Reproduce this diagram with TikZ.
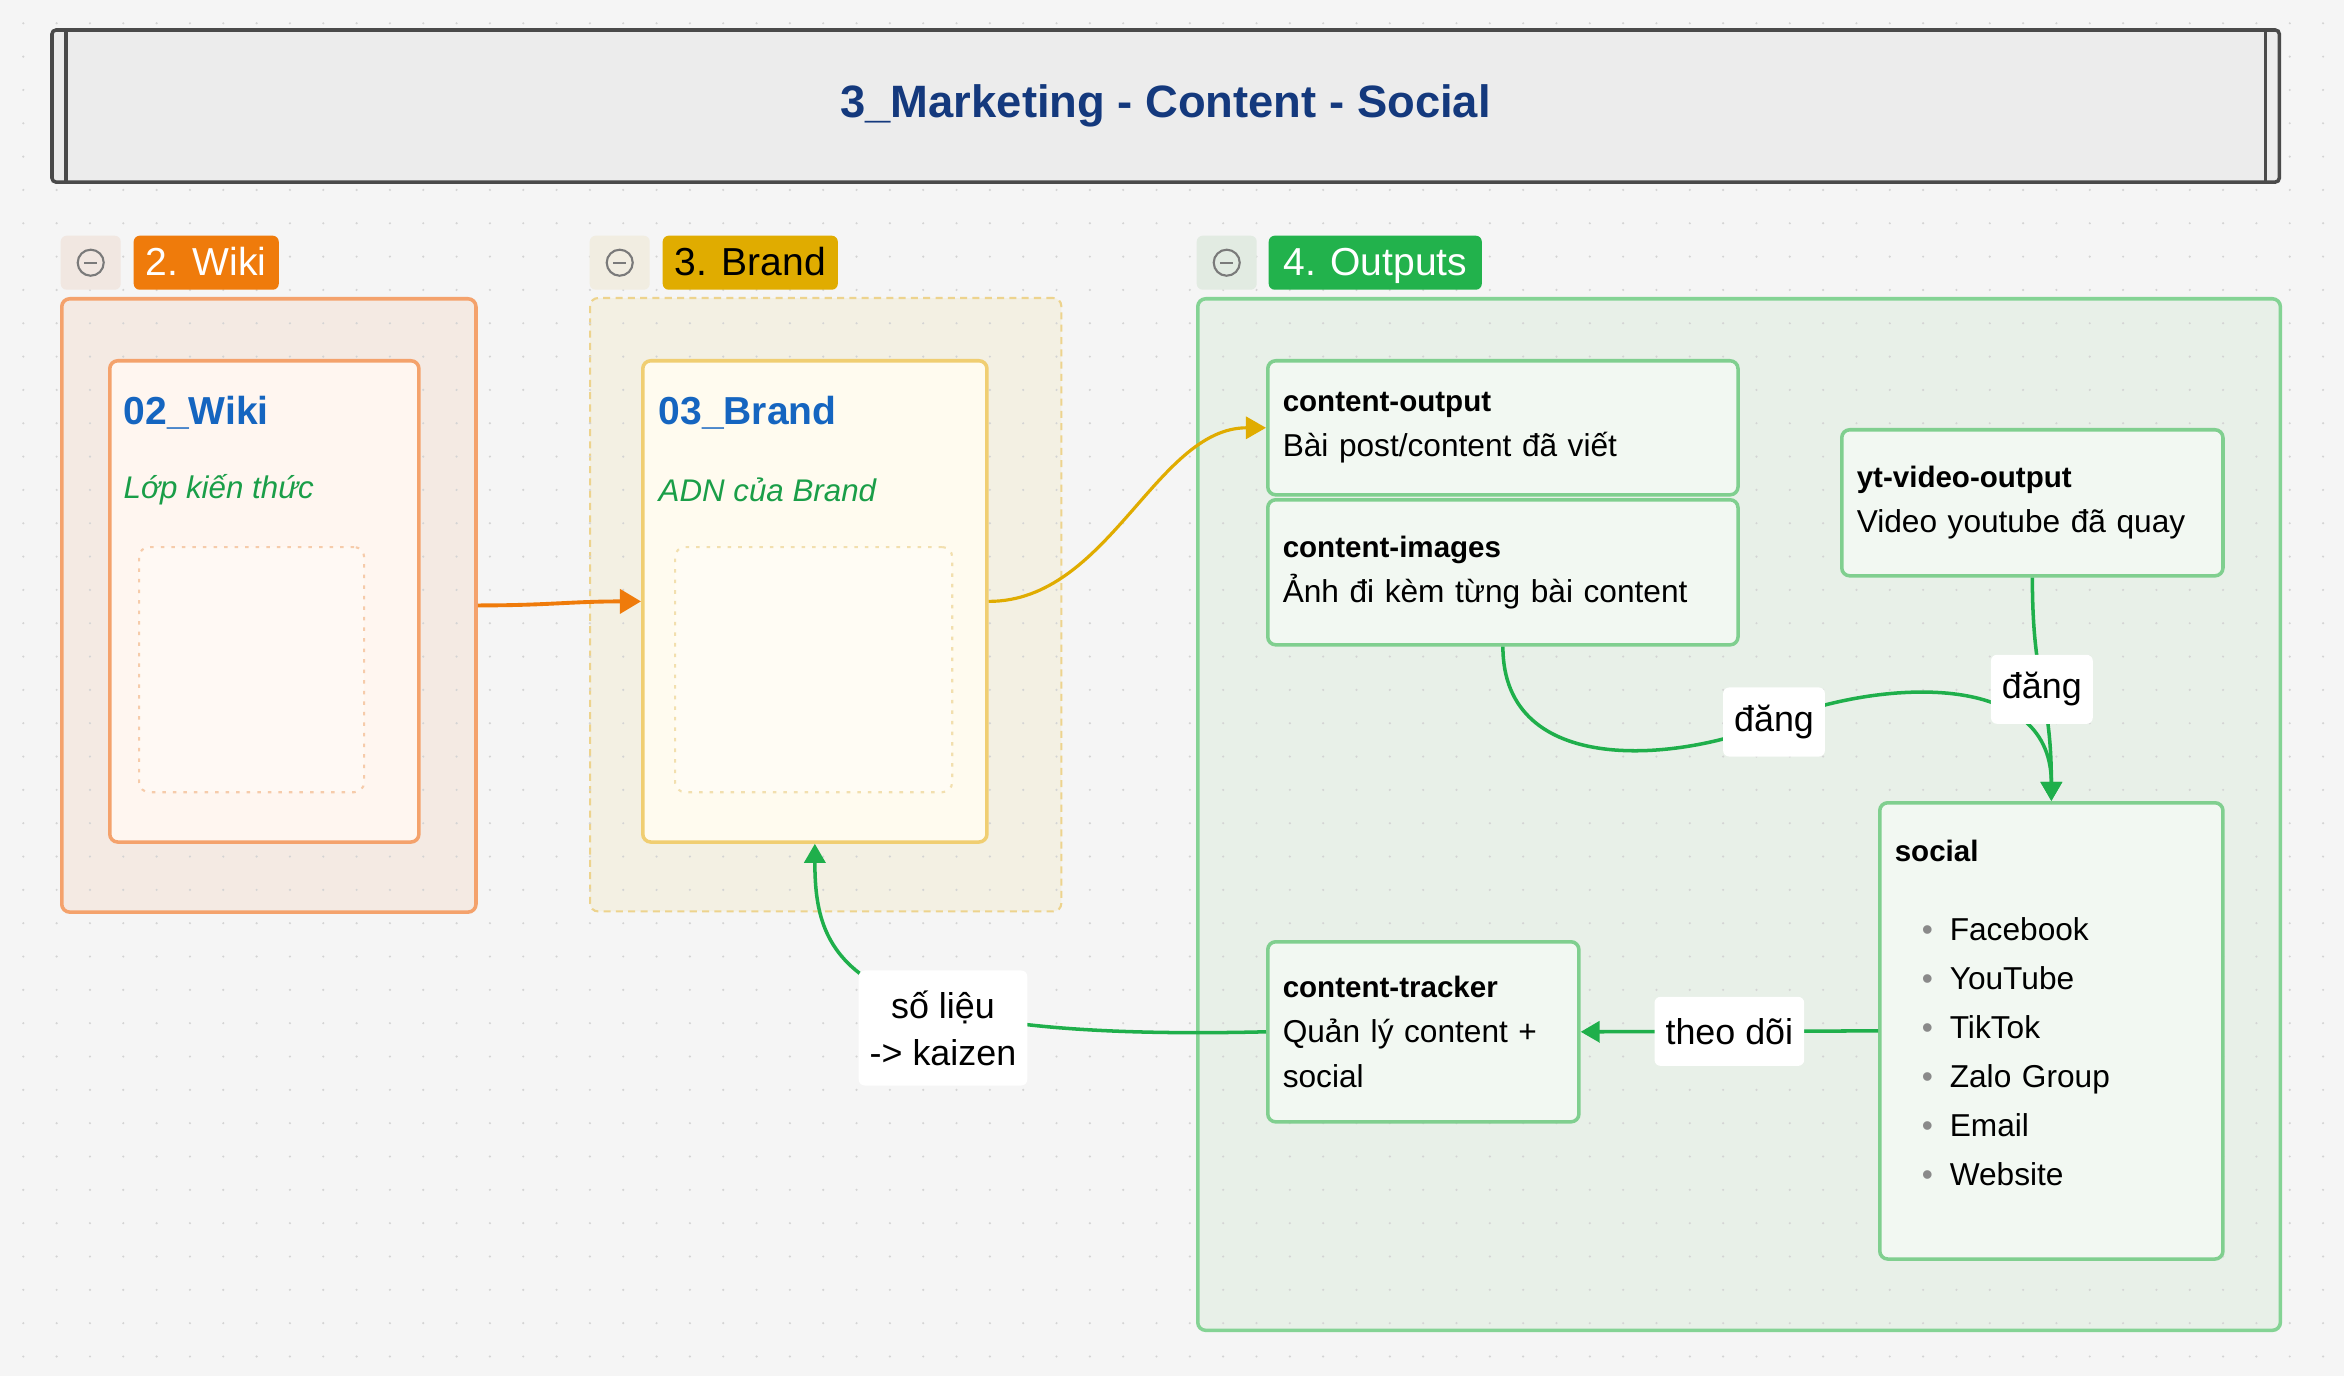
\documentclass[tikz,border=0pt]{standalone}
\usepackage{fontspec}
\setmainfont{Liberation Sans}
\usetikzlibrary{arrows.meta,positioning}

\definecolor{bgcol}{HTML}{F5F5F5}
\definecolor{dotcol}{HTML}{D4D4D4}
\definecolor{titlefill}{HTML}{ECECEC}
\definecolor{titleline}{HTML}{4A4A4A}
\definecolor{titletext}{HTML}{14397D}
\definecolor{wikifill}{HTML}{F4EAE3}
\definecolor{wikiline}{HTML}{F4A26C}
\definecolor{wikicard}{HTML}{FFF6F0}
\definecolor{wikidot}{HTML}{F6CBAA}
\definecolor{wikidotfill}{HTML}{FFF9F4}
\definecolor{brandfill}{HTML}{F3F0E3}
\definecolor{brandline}{HTML}{EDD38D}
\definecolor{brandcard}{HTML}{FFFBEF}
\definecolor{brandcardline}{HTML}{F0CE72}
\definecolor{branddot}{HTML}{F2DFAE}
\definecolor{branddotfill}{HTML}{FFFCF4}
\definecolor{outfill}{HTML}{E8F0E8}
\definecolor{outline}{HTML}{84D394}
\definecolor{cardfill}{HTML}{F2F8F2}
\definecolor{cardline}{HTML}{80CF8F}
\definecolor{tagorange}{HTML}{EF7B0B}
\definecolor{taggold}{HTML}{E0AC00}
\definecolor{taggreen}{HTML}{22B24C}
\definecolor{btnwiki}{HTML}{F1E7E1}
\definecolor{btnbrand}{HTML}{F1EDE1}
\definecolor{btnout}{HTML}{E2EBE2}
\definecolor{iconcol}{HTML}{7A7A7A}
\definecolor{headblue}{HTML}{1565C0}
\definecolor{subgreen}{HTML}{1A9E48}
\definecolor{edgeorange}{HTML}{EF7B0B}
\definecolor{edgegold}{HTML}{E0AC00}
\definecolor{edgegreen}{HTML}{1FAF4B}
\definecolor{bulletgray}{HTML}{8A8A8A}

\newcommand{\boxhead}[1]{{\fontsize{8.4}{12.8}\selectfont\bfseries #1}}
\newcommand{\socitem}[1]{\makebox[0.55cm][l]{\hspace{0.27cm}\textcolor{bulletgray}{\textbullet}}#1}

\begin{document}
\begin{tikzpicture}[x=0.01cm, y=-0.01cm,
  grpbox/.style={rectangle, rounded corners=0.08cm, line width=1pt, anchor=north west, inner sep=0pt},
  cardbox/.style={rectangle, rounded corners=0.08cm, line width=1pt, anchor=north west,
                  align=left, inner xsep=0.15cm, inner ysep=0pt, draw=cardline, fill=cardfill,
                  font=\fontsize{9}{12.8}\selectfont},
  btnbox/.style={rectangle, rounded corners=0.06cm, anchor=north west, inner sep=0pt,
                 minimum width=0.6cm, minimum height=0.54cm},
  tagbox/.style={rectangle, rounded corners=0.06cm, anchor=north west, inner sep=0pt,
                 minimum height=0.54cm, text height=0.72em, text depth=0pt,
                 font=\fontsize{11.1}{13}\selectfont},
  headtext/.style={anchor=west, inner sep=0pt, text=headblue, font=\fontsize{11.1}{13}\selectfont\bfseries},
  subtext/.style={anchor=west, inner sep=0pt, text=subgreen, font=\fontsize{8.9}{11}\selectfont\itshape},
  holder/.style={grpbox, dotted, line width=0.6pt, rounded corners=0.1cm},
  edgelbl/.style={rectangle, fill=white, rounded corners=0.06cm, inner xsep=0.11cm,
                  minimum height=0.69cm, font=\fontsize{10.2}{13.4}\selectfont},
  oarrow/.style={draw=edgeorange, line width=1.1pt, -{Triangle[length=0.21cm,width=0.24cm]}},
  garrow/.style={draw=edgegold, line width=0.9pt, -{Triangle[length=0.2cm,width=0.22cm]}},
  larrow/.style={draw=edgegreen, line width=1pt, -{Triangle[length=0.19cm,width=0.21cm]}},
  icon/.style={draw=iconcol, line width=0.6pt}]

  % canvas
  \fill[bgcol] (0,0) rectangle (2344,1376);
  \useasboundingbox (0,0) rectangle (2344,1376);

  % groups
  \node[grpbox, fill=wikifill, draw=wikiline, minimum width=4.14cm, minimum height=6.13cm] (wikigrp) at (60,297) {};
  \node[grpbox, fill=brandfill, draw=brandline, line width=0.6pt, dash pattern=on 2pt off 1.5pt,
        minimum width=4.71cm, minimum height=6.13cm] (brandgrp) at (589,297) {};
  \node[grpbox, fill=outfill, draw=outline, minimum width=10.82cm, minimum height=10.31cm] (outgrp) at (1196,297) {};

  % dot grid
  \fill[dotcol] \foreach \gx in {0,...,69} {\foreach \gy in {0,...,40}
    {(23.3+33.33*\gx, 23.3+33.33*\gy) circle[radius=0.012cm]}};

  % title
  \node[rectangle, anchor=north west, outer sep=0pt, rounded corners=0.04cm, line width=1pt,
        draw=titleline, fill=titlefill, minimum width=22.26cm, minimum height=1.52cm,
        text=titletext, font=\fontsize{12.9}{15}\selectfont\bfseries] (title) at (52,30)
        {3\_Marketing - Content - Social};
  \draw[line width=1pt, titleline] ([xshift=0.14cm]title.north west) -- ([xshift=0.14cm]title.south west);
  \draw[line width=1pt, titleline] ([xshift=-0.14cm]title.north east) -- ([xshift=-0.14cm]title.south east);

  % group headers
  \node[btnbox, fill=btnwiki] (wikibtn) at (60,235) {};
  \node[tagbox, fill=tagorange, text=white, minimum width=1.45cm] (wikitag) at (133,235) {2. Wiki};
  \node[btnbox, fill=btnbrand] (brandbtn) at (589,235) {};
  \node[tagbox, fill=taggold, text=black, minimum width=1.75cm] (brandtag) at (662,235) {3. Brand};
  \node[btnbox, fill=btnout] (outbtn) at (1196,235) {};
  \node[tagbox, fill=taggreen, text=white, minimum width=2.13cm] (outtag) at (1268,235) {4. Outputs};
  \foreach \b in {wikibtn,brandbtn,outbtn} {
    \draw[icon] (\b.center) circle[radius=0.13cm];
    \draw[icon] ([xshift=-0.065cm]\b.center) -- ([xshift=0.065cm]\b.center);
  }

  % Wiki
  \node[grpbox, fill=wikicard, draw=wikiline, minimum width=3.09cm, minimum height=4.81cm] (wikibox) at (108,359) {};
  \node[holder, fill=wikidotfill, draw=wikidot, minimum width=2.25cm, minimum height=2.45cm] (wikiholder) at (138,546) {};
  \node[headtext] (wikiname) at (123,413) {02\_Wiki};
  \node[subtext] (wikisub) at (123,490) {Lớp kiến thức};

  % Brand
  \node[grpbox, fill=brandcard, draw=brandcardline, minimum width=3.44cm, minimum height=4.81cm] (brandbox) at (641,359) {};
  \node[holder, fill=branddotfill, draw=branddot, minimum width=2.77cm, minimum height=2.45cm] (brandholder) at (674,546) {};
  \node[headtext] (brandname) at (658,413) {03\_Brand};
  \node[subtext] (brandsub) at (658,490) {ADN của Brand};

  % Outputs
  \node[cardbox, text width=4.40cm, minimum height=1.34cm] (coutput) at (1266,359)
    {\boxhead{content-output}\\Bài post/content đã viết};
  \node[cardbox, text width=4.40cm, minimum height=1.45cm] (cimages) at (1266,498)
    {\boxhead{content-images}\\Ảnh đi kèm từng bài content};
  \node[cardbox, text width=3.51cm, minimum height=1.46cm] (ytout) at (1840,428)
    {\boxhead{yt-video-output}\\Video youtube đã quay};
  \node[cardbox, text width=3.13cm, minimum height=4.56cm, font=\fontsize{9}{13.9}\selectfont] (social) at (1878,801)
    {\boxhead{social}\\[0.30cm]
     \socitem{Facebook}\\
     \socitem{YouTube}\\
     \socitem{TikTok}\\
     \socitem{Zalo Group}\\
     \socitem{Email}\\
     \socitem{Website}\rule[-0.36cm]{0pt}{0pt}};
  \node[cardbox, text width=2.81cm, minimum height=1.80cm] (tracker) at (1266,940)
    {\boxhead{content-tracker}\\Quản lý content +\\social};

  % connectors
  \draw[oarrow] (wikigrp.east) .. controls +(70,0) and +(-70,0) .. (brandbox.west);
  \draw[garrow] (brandbox.east) .. controls +(120,0) and +(-110,0) .. (coutput.west);
  \coordinate (dang1) at (1774,722);
  \draw[larrow] (cimages.south) .. controls +(0,132) and +(-94,40) .. (dang1) node[edgelbl] {đăng}
    .. controls +(94,-40) and +(0,-136) .. (social.north);
  \draw[larrow] (ytout.south) .. controls +(0,110) and +(0,-110) .. (social.north) node[edgelbl, pos=0.5] {đăng};
  \draw[larrow] (social.west) -- (tracker.east) node[edgelbl, midway] {theo dõi};
  \draw[larrow] (tracker.west) .. controls +(-416,10) and +(0,120) .. (brandbox.south);
  \node[edgelbl, align=center, inner ysep=0.2cm] (kaizen) at (943,1028) {số liệu\\-> kaizen};
\end{tikzpicture}
\end{document}
